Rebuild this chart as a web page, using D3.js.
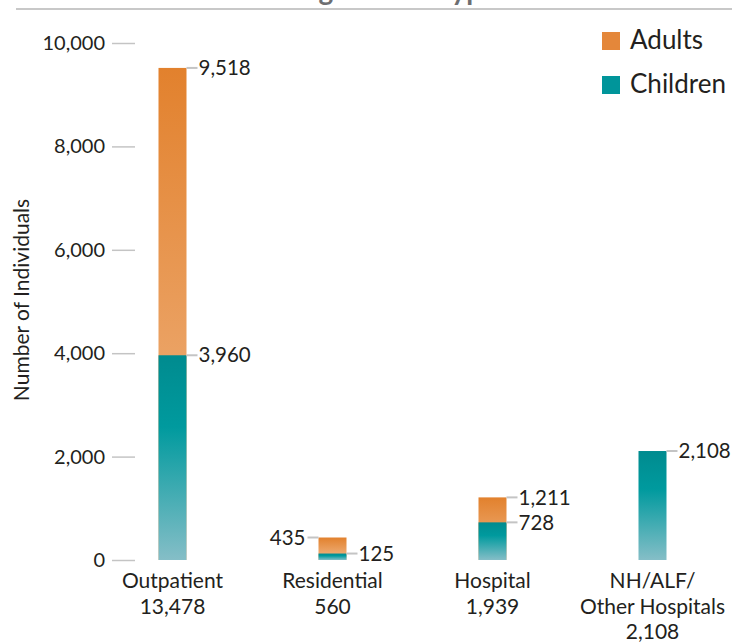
<!DOCTYPE html>
<html lang="en">
  <head>
    <meta charset="utf-8" />
    <title>Individuals by Setting Type</title>
    <style>
      body, html {
        margin: 0;
        padding: 0;
        background: #ffffff;
      }
      svg text {
        font-family: Lato, "Open Sans", sans-serif;
        fill: #231f20;
      }
      .axis path { display: none; }
      .axis line { stroke: #c4c4c4; stroke-width: 1.5; }
      .axis text { font-size: 20px; }
      .conn { stroke: #c4c4c4; stroke-width: 2; }
    </style>
    <script src="https://cdn.jsdelivr.net/npm/d3@7"></script>
  </head>
<body>
<svg width="732" height="642"></svg>
<script>
    // data
    var categories = ["Outpatient", "Residential", "Hospital", "NH/ALF/ Other Hospitals"];
    var catLines = [["Outpatient"], ["Residential"], ["Hospital"], ["NH/ALF/", "Other Hospitals"]];
    var totals = [13478, 560, 1939, 2108];
    var adults = [9518, 435, 1211, 0];
    var children = [3960, 125, 728, 2108];
    var yTicks = [0, 2000, 4000, 6000, 8000, 10000];
    var legendNames = ["Adults", "Children"];

    var svg = d3.select("svg");
    var fmt = d3.format(",");

    var yScale = d3.scaleLinear().domain([0, 10000]).range([560, 43]);
    var xScale = d3.scalePoint().domain(categories).range([172.5, 652.5]);
    var barW = 28;

    // gradients
    var defs = svg.append("defs");
    var gA = defs.append("linearGradient").attr("id", "gradA")
        .attr("x1", 0).attr("y1", 0).attr("x2", 0).attr("y2", 1);
    gA.append("stop").attr("offset", "0%").attr("stop-color", "#e2812d");
    gA.append("stop").attr("offset", "100%").attr("stop-color", "#f1b98a");
    var gC = defs.append("linearGradient").attr("id", "gradC")
        .attr("x1", 0).attr("y1", 0).attr("x2", 0).attr("y2", 1);
    gC.append("stop").attr("offset", "0%").attr("stop-color", "#008b8f");
    gC.append("stop").attr("offset", "35%").attr("stop-color", "#009a9e");
    gC.append("stop").attr("offset", "100%").attr("stop-color", "#85bec7");

    // title (cut off at the top) and rule
    svg.append("text")
       .attr("x", 497)
       .attr("y", -0.5)
       .attr("text-anchor", "end")
       .style("font-size", "28px")
       .style("font-weight", "700")
       .style("fill", "#6d6e71")
       .text("Individuals Receiving Service Type");
    svg.append("line")
       .attr("x1", 16).attr("x2", 732)
       .attr("y1", 9).attr("y2", 9)
       .attr("stroke", "#c8c8c8").attr("stroke-width", 2);

    // y axis
    svg.append("g")
       .attr("class", "axis")
       .attr("transform", "translate(135,0)")
       .call(d3.axisLeft(yScale).tickValues(yTicks).tickSize(23).tickPadding(7).tickFormat(fmt));

    svg.append("text")
       .attr("transform", "translate(29,300) rotate(-90)")
       .attr("text-anchor", "middle")
       .style("font-size", "21px")
       .text("Number of Individuals");

    var data = categories.map(function(c, i) {
        return { cat: c, lines: catLines[i], total: totals[i], adults: adults[i], children: children[i], i: i };
    });

    // adult bars behind, children in front
    svg.selectAll(".barA")
       .data(data.filter(function(d) { return d.adults > 0; }))
       .enter().append("rect")
       .attr("class", "barA")
       .attr("x", function(d) { return xScale(d.cat) - barW / 2; })
       .attr("y", function(d) { return yScale(d.adults); })
       .attr("width", barW)
       .attr("height", function(d) { return yScale(0) - yScale(d.adults); })
       .attr("fill", "url(#gradA)");

    svg.selectAll(".barC")
       .data(data.filter(function(d) { return d.children > 0; }))
       .enter().append("rect")
       .attr("class", "barC")
       .attr("x", function(d) { return xScale(d.cat) - barW / 2; })
       .attr("y", function(d) { return yScale(d.children); })
       .attr("width", barW)
       .attr("height", function(d) { return yScale(0) - yScale(d.children); })
       .attr("fill", "url(#gradC)");

    // value labels with connectors
    var labels = [];
    data.forEach(function(d) {
        if (d.adults > 0) labels.push({ cat: d.cat, v: d.adults, left: d.cat === "Residential" });
        if (d.children > 0) labels.push({ cat: d.cat, v: d.children, left: false });
    });
    labels.forEach(function(l) {
        var cx = xScale(l.cat), y = yScale(l.v);
        var x0 = l.left ? cx - barW / 2 : cx + barW / 2;
        var x1 = l.left ? x0 - 11 : x0 + 11;
        svg.append("line").attr("class", "conn")
           .attr("x1", x0).attr("x2", x1).attr("y1", y).attr("y2", y);
        svg.append("text")
           .attr("x", l.left ? x1 - 2 : x1 + 1)
           .attr("y", y)
           .attr("dy", "0.35em")
           .attr("text-anchor", l.left ? "end" : "start")
           .style("font-size", "20.5px")
           .text(fmt(l.v));
    });

    // category labels
    var cl = svg.selectAll(".catlab")
       .data(data)
       .enter().append("text")
       .attr("class", "catlab")
       .attr("text-anchor", "middle")
       .style("font-size", "21px");
    cl.each(function(d) {
        var t = d3.select(this);
        var lines = d.lines.concat([fmt(d.total)]);
        lines.forEach(function(s, k) {
            t.append("tspan").attr("x", xScale(d.cat)).attr("y", 588 + k * 25.5).text(s);
        });
    });

    // legend
    var leg = svg.selectAll(".leg")
       .data(legendNames)
       .enter().append("g")
       .attr("class", "leg")
       .attr("transform", function(d, i) { return "translate(602," + (32 + i * 44) + ")"; });
    leg.append("rect")
       .attr("width", 18).attr("height", 18)
       .attr("fill", function(d, i) { return i === 0 ? "#e4873a" : "#00959a"; });
    leg.append("text")
       .attr("x", 28).attr("y", 17)
       .style("font-size", "26px")
       .text(function(d) { return d; });
</script>
</body>
</html>
